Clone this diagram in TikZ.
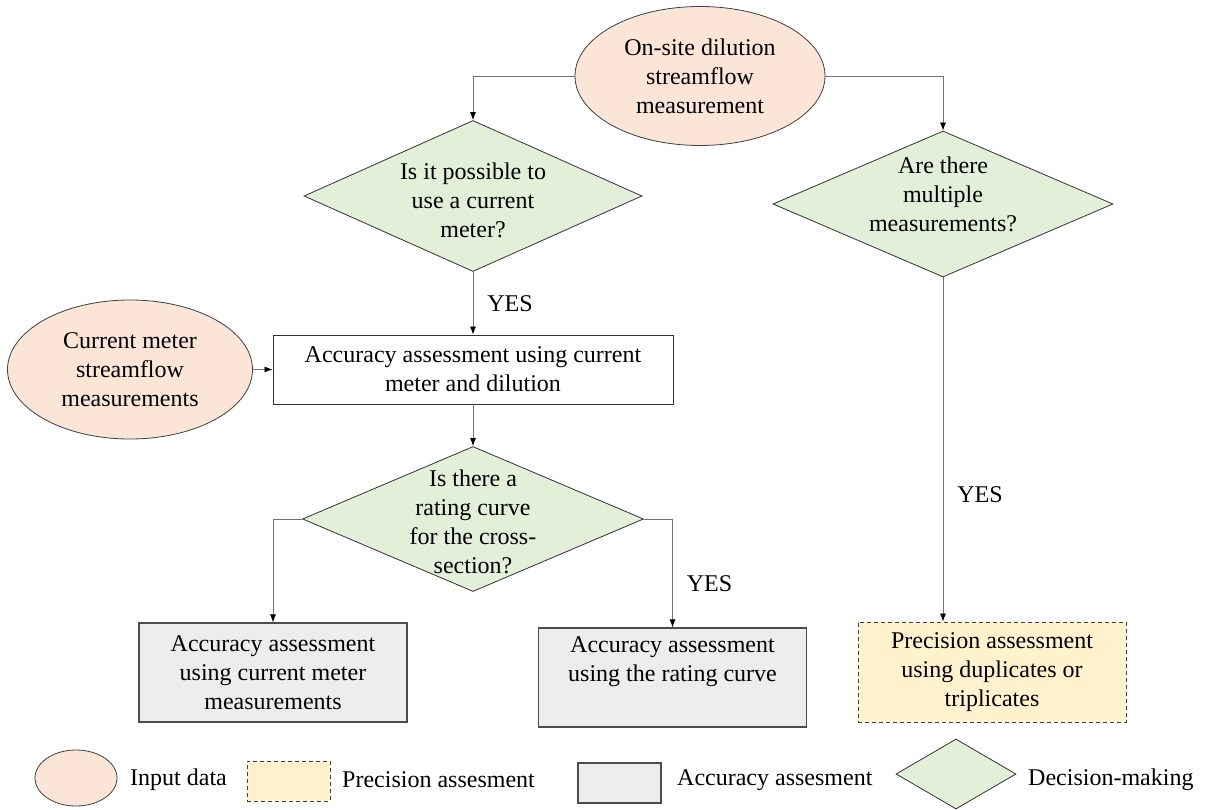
\documentclass[tikz,border=0pt]{standalone}
\usepackage{fontspec}
\setmainfont{Liberation Serif}
\usetikzlibrary{shapes.geometric, arrows.meta}

\definecolor{inputfill}{HTML}{FBE5D6}
\definecolor{decfill}{HTML}{E2F0D9}
\definecolor{accfill}{HTML}{EDEDED}
\definecolor{precfill}{HTML}{FFF2CC}

\begin{document}
\begin{tikzpicture}[x=1pt, y=-1pt,
		every node/.style={font=\fontsize{24}{29}\selectfont, align=center},
		inputdata/.style={ellipse, draw=black!75, fill=inputfill, line width=0.8pt, inner sep=0pt},
		decision/.style={diamond, draw=black!80, fill=decfill, line width=0.8pt, inner sep=0pt},
		plainbox/.style={rectangle, draw=black!80, line width=0.9pt, inner sep=0pt},
		accbox/.style={rectangle, draw=black!70, fill=accfill, line width=1.2pt, inner sep=0pt, minimum width=268pt, minimum height=99pt},
		precbox/.style={rectangle, draw=black!75, fill=precfill, dash pattern=on 4pt off 3pt, line width=0.9pt, inner sep=0pt, minimum width=268pt, minimum height=100pt},
		link/.style={draw=black!55, line width=0.8pt, -{Latex[color=black, length=8pt, width=6pt]}},
		yes/.style={right, inner sep=0pt, xshift=14pt}
	]
				\path[fill=white, use as bounding box] (0,0) rectangle (1209,810);
				
				% Input data
				\node[inputdata, minimum width=250pt, minimum height=139pt] (site) at (700,76) {On-site dilution\\streamflow\\measurement};
				\node[inputdata, minimum width=245pt, minimum height=139pt] (meter) at (130,369.5) {Current meter\\streamflow\\measurements};
				
				% Decisions (diamond, then its text)
				\node[decision, minimum width=338pt, minimum height=151pt] (usecm) at (473,196) {};
				\node (usecmtxt) at (473,200) {Is it possible to\\use a current\\meter?};
				\node[decision, minimum width=340pt, minimum height=146pt] (multi) at (943,204) {};
				\node (multitxt) at (943,194) {Are there\\multiple\\measurements?};
				\node[decision, minimum width=341pt, minimum height=145pt] (rating) at (473,519) {};
				\node (ratingtxt) at (473,522) {Is there a\\rating curve\\for the cross-\\section?};
				
				% Assessment boxes
				\node[plainbox, minimum width=400pt, minimum height=69pt] (dilution) at (473,369.5) {Accuracy assessment using current\\meter and dilution};
				\node[accbox] (cmacc) at (273,672.5) {Accuracy assessment\\using current meter\\measurements};
				\node[accbox] (rcacc) at (672.5,677.5) {Accuracy assessment\\using the rating curve\\\strut};
				\node[precbox] (prec) at (992,672) {Precision assessment\\using duplicates or\\triplicates};
				
				% Arrows
				\draw[link] (site.west) -| (usecm.north);
				\draw[link] (site.east) -| (multi.north);
				\draw[link] (usecm.south) -- node[yes]{YES} (dilution.north);
				\draw[link] (meter.east) -- (dilution.west);
				\draw[link] (dilution.south) -- (rating.north);
				\draw[link] (rating.west) -| (cmacc.north);
				\draw[link] (rating.east) -| node[yes, pos=0.8]{YES} (rcacc.north);
				\draw[link] (multi.south) -- node[yes, pos=0.63]{YES} (multi.south |- prec.north);
				
				% Legend
				\node[inputdata, minimum width=82pt, minimum height=56pt] (leginput) at (76,778) {};
				\node[anchor=west, inner sep=0pt] (leginputtxt) at (130,780) {Input data};
				\node[precbox, minimum width=83pt, minimum height=40pt] (legprec) at (288.5,781) {};
				\node[anchor=west, inner sep=0pt] (legprectxt) at (342,780) {Precision assesment};
				\node[accbox, minimum width=83pt, minimum height=40pt] (legacc) at (619.5,783) {};
				\node[anchor=west, inner sep=0pt] (legacctxt) at (677,780) {Accuracy assesment};
				\node[decision, minimum width=120pt, minimum height=70pt] (legdec) at (956,774) {};
				\node[anchor=west, inner sep=0pt] (legdectxt) at (1028,780) {Decision-making};
\end{tikzpicture}
\end{document}
